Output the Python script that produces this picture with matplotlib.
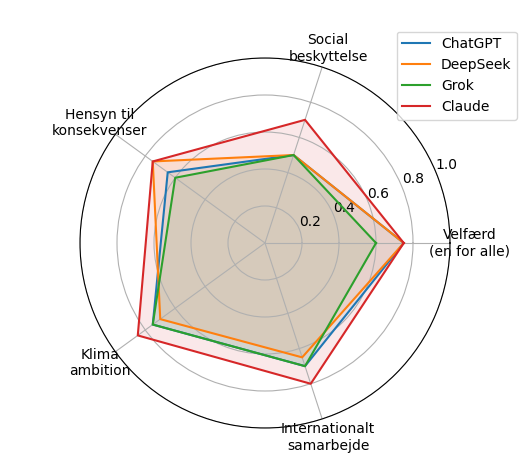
import numpy as np
import matplotlib
matplotlib.use("Agg")
import matplotlib.pyplot as plt

categories = ["Velfærd\n(en for alle)", "Social\nbeskyttelse", "Hensyn til\nkonsekvenser",
              "Klima\nambition", "Internationalt\nsamarbejde"]
chatgpt = [0.75, 0.5, 0.65, 0.75, 0.7]
deepseek = [0.75, 0.5, 0.75, 0.7, 0.65]
grok = [0.6, 0.5, 0.6, 0.75, 0.7]
claude = [0.75, 0.7, 0.75, 0.85, 0.8]
series = [("ChatGPT", chatgpt), ("DeepSeek", deepseek), ("Grok", grok), ("Claude", claude)]
rticks = [0.2, 0.4, 0.6, 0.8, 1.0]

fig = plt.figure(figsize=(5.31, 4.63), dpi=100)
ax = fig.add_axes([80/531, 35/463, 370/531, 370/463], projection="polar")

n = len(categories)
angles = np.linspace(0, 2*np.pi, n, endpoint=False).tolist()
angles_c = angles + angles[:1]

for name, vals in series:
    v = list(vals) + [vals[0]]
    ax.plot(angles_c, v, label=name, linewidth=1.5)
    ax.fill(angles_c, v, alpha=0.1)

ax.set_xticks(angles)
ax.set_xticklabels(categories)
ax.set_ylim(0, 1.0)
ax.set_yticks(rticks)
ax.set_yticklabels([f"{t:.1f}" for t in rticks])
ax.legend(loc="upper right", bbox_to_anchor=(1.2, 1.09))

fig.savefig("out.png", dpi=100)
